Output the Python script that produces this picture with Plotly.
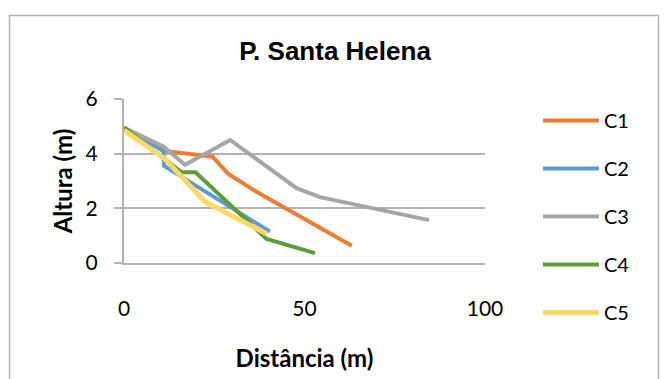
import plotly.graph_objects as go

# Perfil de altura ao longo da distância, cinco cortes (C1–C5)
c1_x = [0, 11.4, 24.5, 28.9, 36.7, 63.1]
c1_y = [4.95, 4.10, 3.89, 3.26, 2.61, 0.63]

c2_x = [0, 10.9, 11.1, 40.4]
c2_y = [4.95, 4.10, 3.55, 1.15]

c3_x = [0, 10.9, 16.9, 29.4, 47.8, 54.3, 84.5]
c3_y = [4.95, 4.26, 3.59, 4.50, 2.74, 2.41, 1.57]

c4_x = [0, 16.0, 19.8, 39.5, 52.9]
c4_y = [4.95, 3.32, 3.32, 0.88, 0.36]

c5_x = [0, 11.2, 22.4, 39.5]
c5_y = [4.85, 3.83, 2.24, 1.07]

names = ["C1", "C2", "C3", "C4", "C5"]
xs = [c1_x, c2_x, c3_x, c4_x, c5_x]
ys = [c1_y, c2_y, c3_y, c4_y, c5_y]
colors = ["#ED7D31", "#5B9BD5", "#A5A5A5", "#5E9C3A", "#FFD966"]
widths = [4, 4, 4, 4, 5]

x_ticks = [0, 50, 100]
y_ticks = [0, 2, 4, 6]

fig = go.Figure()
for n, x, y, c, w in zip(names, xs, ys, colors, widths):
    fig.add_trace(go.Scatter(x=x, y=y, name=n, mode="lines", legendgroup=n,
                             line=dict(color=c, width=w)))

W, H = 667, 379
L, R, T, B = 124, 182, 99, 116
pw, ph = W - L - R, H - T - B

def px_to_paper_x(px):
    return (px - L) / pw

def py_to_paper_y(py):
    return (H - B - py) / ph

grid = "#b3b3b3"
fig.update_layout(
    width=W, height=H,
    margin=dict(l=L, r=R, t=T, b=B, autoexpand=False),
    paper_bgcolor="white", plot_bgcolor="white",
    font=dict(family="Lato, Noto Sans, sans-serif", size=21, color="black"),
    title=dict(text="<b>P. Santa Helena</b>", x=335 / W, xanchor="center",
               xref="container", yref="container", y=1 - 51 / H, yanchor="middle",
               font=dict(family="Liberation Sans, Arial, sans-serif", size=26, color="black")),
    xaxis=dict(range=[0, 100], tickvals=x_ticks, showgrid=False, zeroline=False,
               showline=True, linecolor=grid, linewidth=2, ticks="",
               ticklabelstandoff=26,
               title=dict(text="<b>Distância (m)</b>", standoff=31,
                          font=dict(size=24))),
    yaxis=dict(range=[0, 6], tickvals=y_ticks, showgrid=True, gridcolor=grid,
               gridwidth=2, zeroline=False, showline=True, linecolor=grid,
               linewidth=2, ticks="outside", ticklen=8, tickcolor=grid,
               tickwidth=2, ticklabelstandoff=12,
               title=dict(text="<b>Altura (m)</b>", standoff=6,
                          font=dict(size=24))),
    legend=dict(x=px_to_paper_x(538), xanchor="left",
                y=py_to_paper_y(101), yanchor="top",
                tracegroupgap=19, itemwidth=56, maxheight=400,
                font=dict(size=20), bgcolor="rgba(0,0,0,0)"),
    shapes=[dict(type="rect", xref="paper", yref="paper",
                 x0=px_to_paper_x(9.5), x1=px_to_paper_x(658.5),
                 y0=py_to_paper_y(400), y1=py_to_paper_y(15.5),
                 line=dict(color="#b3b3b3", width=1.5), layer="below")],
)

fig.write_html("out.html")
